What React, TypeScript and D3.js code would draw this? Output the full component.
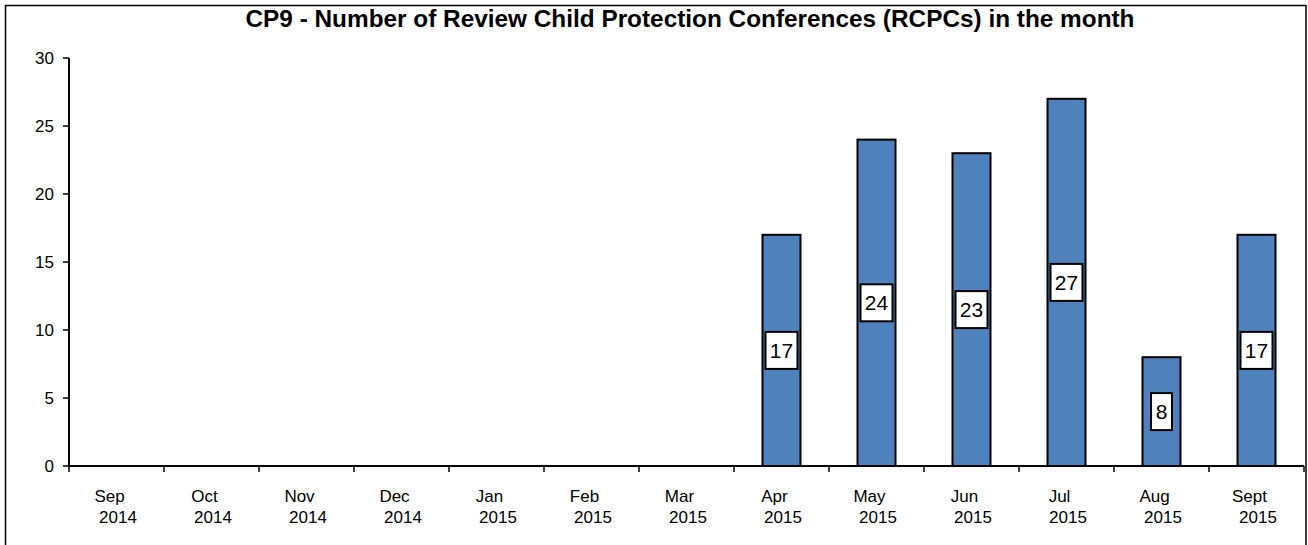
import React from "react";
import * as d3 from "d3";

const months = ["Sep", "Oct", "Nov", "Dec", "Jan", "Feb", "Mar", "Apr", "May", "Jun", "Jul", "Aug", "Sept"];
const years = ["2014", "2014", "2014", "2014", "2015", "2015", "2015", "2015", "2015", "2015", "2015", "2015", "2015"];
const values: (number | null)[] = [null, null, null, null, null, null, null, 17, 24, 23, 27, 8, 17];
const yTicks = [0, 5, 10, 15, 20, 25, 30];
const title = "CP9 - Number of Review Child Protection Conferences (RCPCs) in the month";

const W = 1308;
const H = 545;
const left = 69;
const right = 1304;
const top = 58;
const bottom = 466;
const font = "'Liberation Sans', Arial, sans-serif";

export default function App() {
  const idx = months.map((_, i) => String(i));
  const x = d3.scaleBand<string>().domain(idx).range([left, right]).paddingInner(0).paddingOuter(0);
  const y = d3.scaleLinear().domain([0, 30]).range([bottom, top]);
  const bw = x.bandwidth() * 0.4;
  const boundaries = d3.range(months.length + 1).map((i) => left + i * x.bandwidth());

  return (
    <svg width={W} height={H} style={{ position: "absolute", left: 0, top: 0, background: "#fff" }}>
      <rect x={5.5} y={5.5} width={1300.5} height={H + 10} fill="#fff" stroke="#000" strokeWidth={1.5} />
      <text x={690} y={27} textAnchor="middle" fontFamily={font} fontWeight="bold" fontSize={24} textLength={889} lengthAdjust="spacingAndGlyphs">
        {title}
      </text>
      {values.map((v, i) => {
        if (v == null) return null;
        const cx = (x(String(i)) as number) + x.bandwidth() / 2;
        return (
          <rect key={"b" + i} x={cx - bw / 2} y={y(v)} width={bw} height={y(0) - y(v)} fill="#4F81BD" stroke="#000" strokeWidth={2} />
        );
      })}
      {/* y axis */}
      <line x1={left} x2={left} y1={top} y2={bottom} stroke="#000" strokeWidth={2} />
      {yTicks.map((t) => (
        <g key={"y" + t}>
          <line x1={left - 6} x2={left} y1={y(t)} y2={y(t)} stroke="#000" strokeWidth={1.5} />
          <text x={54} y={y(t) + 6} textAnchor="end" fontFamily={font} fontSize={17}>
            {t}
          </text>
        </g>
      ))}
      {/* x axis */}
      <line x1={left} x2={right} y1={bottom} y2={bottom} stroke="#000" strokeWidth={2} />
      {boundaries.map((bx, i) => (
        <line key={"xt" + i} x1={bx} x2={bx} y1={bottom} y2={bottom + 6} stroke="#000" strokeWidth={1.5} />
      ))}
      {months.map((m, i) => {
        const cx = (x(String(i)) as number) + x.bandwidth() / 2;
        return (
          <g key={"xl" + i} fontFamily={font} fontSize={17}>
            <text x={cx - 7} y={502} textAnchor="middle">{m}</text>
            <text x={cx + 1.5} y={523} textAnchor="middle">{years[i]}</text>
          </g>
        );
      })}
      {values.map((v, i) => {
        if (v == null) return null;
        const cx = (x(String(i)) as number) + x.bandwidth() / 2;
        const cy = y(v / 2);
        const label = String(v);
        const tw = label.length * 11;
        const boxW = tw + 10;
        const boxH = 37;
        return (
          <g key={"l" + i}>
            <rect x={cx - boxW / 2} y={cy - boxH / 2} width={boxW} height={boxH} fill="#fff" stroke="#000" strokeWidth={2} />
            <text x={cx} y={cy + 7.5} textAnchor="middle" fontFamily={font} fontSize={21}>
              {label}
            </text>
          </g>
        );
      })}
    </svg>
  );
}
